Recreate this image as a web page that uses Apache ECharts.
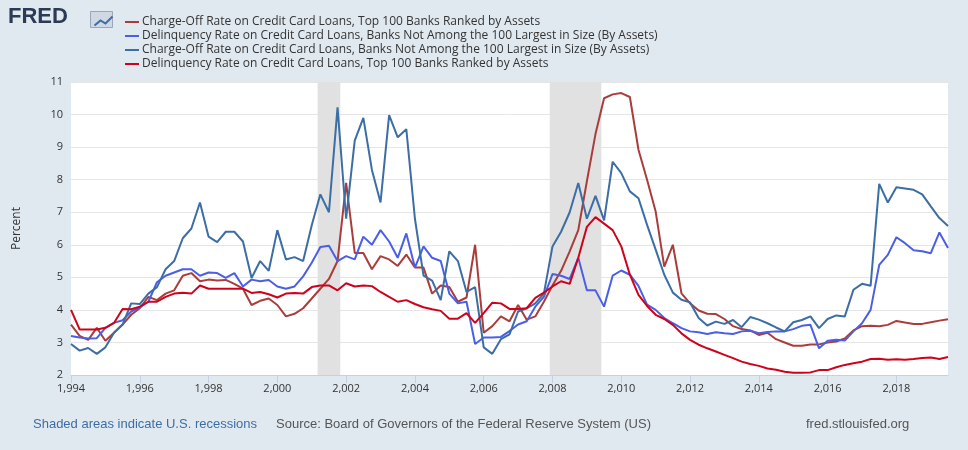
<!DOCTYPE html>
<html><head><meta charset="utf-8">
<script src="https://cdn.jsdelivr.net/npm/echarts@6/dist/echarts.min.js"></script>
<style>html,body{margin:0;padding:0;background:#e1e9f0;}#chart{width:968px;height:450px;}</style>
</head><body><div id="chart"></div>
<script>
// quarterly, 1994Q1 .. 2019Q3
var startYear = 1994;
var chargeOffTop100 = [3.55,3.2,3.08,3.45,3.05,3.3,3.55,3.85,4.05,4.4,4.3,4.5,4.6,5.05,5.13,4.88,4.93,4.9,4.92,4.8,4.65,4.15,4.28,4.35,4.15,3.8,3.88,4.05,4.35,4.65,4.95,
  5.5,7.9,5.75,5.75,5.25,5.65,5.55,5.35,5.7,5.3,5.3,4.5,4.75,4.7,4.25,4.38,6.0,3.3,3.5,3.8,3.65,4.15,3.7,3.8,4.25,4.75,5.2,5.8,6.45,7.95,9.4,10.5,10.62,
  10.66,10.54,8.92,8.0,7.02,5.33,6.0,4.51,4.2,3.98,3.88,3.87,3.72,3.5,3.41,3.37,3.23,3.3,3.1,3.0,2.9,2.9,2.94,2.94,3.0,3.03,3.12,3.37,3.5,3.51,3.5,3.54,3.66,3.61,3.57,3.57,3.62,3.67,3.71];
var delinqOther = [3.2,3.15,3.12,3.13,3.45,3.6,3.68,3.95,4.08,4.25,4.85,5.05,5.15,5.25,5.25,5.05,5.15,5.13,4.98,5.13,4.72,4.93,4.88,4.92,4.72,4.65,4.72,5.03,5.45,5.93,5.97,
  5.5,5.65,5.55,6.25,6.0,6.45,6.1,5.6,6.35,5.3,5.95,5.6,5.5,4.5,4.2,4.25,2.95,3.15,3.15,3.17,3.35,3.55,3.65,4.1,4.4,5.1,5.05,4.95,5.6,4.6,4.6,4.1,5.05,
  5.21,5.08,4.74,4.16,4.0,3.75,3.59,3.44,3.34,3.31,3.26,3.31,3.28,3.26,3.34,3.36,3.28,3.32,3.34,3.34,3.41,3.51,3.54,2.82,3.05,3.08,3.06,3.34,3.59,4.0,5.38,5.69,6.23,6.05,5.83,5.8,5.74,6.38,5.9];
var chargeOffOther = [2.95,2.75,2.83,2.65,2.85,3.3,3.55,4.2,4.18,4.5,4.7,5.25,5.5,6.2,6.5,7.3,6.25,6.08,6.4,6.4,6.1,4.98,5.5,5.2,6.45,5.55,5.62,5.5,6.6,7.55,7.0,
  10.22,6.8,9.2,9.9,8.3,7.3,9.98,9.3,9.55,6.8,5.05,4.9,4.3,5.8,5.5,4.55,4.7,2.85,2.65,3.1,3.25,3.95,4.05,4.2,4.5,5.95,6.4,7.0,7.9,6.8,7.5,6.75,8.55,
  8.2,7.64,7.43,6.61,5.85,5.08,4.53,4.31,4.23,3.75,3.52,3.64,3.57,3.69,3.47,3.78,3.7,3.59,3.46,3.34,3.62,3.69,3.8,3.44,3.72,3.83,3.8,4.62,4.8,4.74,7.87,7.3,7.77,7.73,7.69,7.55,7.18,6.82,6.58];
var delinqTop100 = [4.0,3.4,3.4,3.4,3.45,3.6,4.03,4.02,4.1,4.25,4.25,4.4,4.5,4.53,4.5,4.75,4.65,4.65,4.65,4.65,4.65,4.52,4.55,4.48,4.38,4.5,4.52,4.5,4.7,4.75,4.75,
  4.6,4.82,4.72,4.75,4.73,4.55,4.4,4.25,4.3,4.18,4.08,4.02,3.97,3.73,3.73,3.9,3.6,3.9,4.22,4.2,4.03,4.03,4.05,4.37,4.53,4.72,4.88,4.8,5.6,6.55,6.85,6.65,6.45,
  5.95,5.08,4.46,4.12,3.85,3.72,3.54,3.28,3.08,2.93,2.82,2.72,2.62,2.52,2.41,2.34,2.28,2.2,2.16,2.1,2.07,2.07,2.08,2.15,2.15,2.24,2.31,2.36,2.41,2.49,2.5,2.47,2.48,2.47,2.49,2.52,2.54,2.49,2.55];
var seriesNames = [
  'Charge-Off Rate on Credit Card Loans, Top 100 Banks Ranked by Assets',
  'Delinquency Rate on Credit Card Loans, Banks Not Among the 100 Largest in Size (By Assets)',
  'Charge-Off Rate on Credit Card Loans, Banks Not Among the 100 Largest in Size (By Assets)',
  'Delinquency Rate on Credit Card Loans, Top 100 Banks Ranked by Assets'
];
var seriesColors = ['#aa3d3b','#4b5fe6','#3c6ea5','#d0021b'];
var recessions = [[2001.17,2001.83],[2007.92,2009.42]];

function toPoints(arr){
  var out = [];
  for (var i = 0; i < arr.length; i++){
    out.push([startYear + i / 4, arr[i]]);
  }
  return out;
}

var allData = [chargeOffTop100, delinqOther, chargeOffOther, delinqTop100];
var series = [];
for (var k = 0; k < allData.length; k++){
  var s = {
    name: seriesNames[k],
    type: 'line',
    data: toPoints(allData[k]),
    symbol: 'none',
    lineStyle: {width: 2, color: seriesColors[k]},
    itemStyle: {color: seriesColors[k]},
    z: 3 + k
  };
  if (k == 0){
    s.markArea = {
      silent: true,
      itemStyle: {color: '#e1e1e1'},
      data: recessions.map(function(r){ return [{xAxis: r[0]}, {xAxis: r[1]}]; })
    };
  }
  series.push(s);
}

var chart = echarts.init(document.getElementById('chart'));
chart.setOption({
  backgroundColor: '#e1e9f0',
  animation: false,
  textStyle: {fontFamily: 'Open Sans, Arial, sans-serif'},
  grid: {left: 71, right: 20, top: 82, bottom: 75},
  legend: {
    orient: 'vertical', left: 120, top: 11, itemGap: 2, itemWidth: 14, itemHeight: 2,
    icon: 'rect', selectedMode: false,
    textStyle: {fontSize: 12, color: '#333', padding: [0,0,0,-2]},
    data: seriesNames
  },
  xAxis: {
    type: 'value', min: 1994, max: 2019.5, interval: 2,
    axisLine: {lineStyle: {color: '#c6d0e0'}},
    axisTick: {show: true, length: 8, lineStyle: {color: '#c6d0e0'}},
    axisLabel: {color: '#333', fontSize: 11, showMaxLabel: false},
    splitLine: {show: false}
  },
  yAxis: {
    type: 'value', min: 2, max: 11, interval: 1,
    name: 'Percent', nameLocation: 'middle', nameGap: 48, nameRotate: 90,
    nameTextStyle: {color: '#333', fontSize: 12},
    axisLine: {show: false}, axisTick: {show: false},
    axisLabel: {color: '#333', fontSize: 11},
    splitLine: {lineStyle: {color: '#e6e6e6'}}
  },
  graphic: [
    {type: 'rect', left: 71, top: 82, shape: {width: 877, height: 293}, style: {fill: '#fff'}, z: -10, silent: true},
    {type: 'text', left: 8, top: 6, style: {text: 'FRED', font: 'bold 22px Arial', fill: '#2b3a55'}},
    {type: 'rect', left: 90, top: 11, shape: {width: 22, height: 16}, style: {fill: '#cfd8e3', stroke: '#9aa7b8'}},
    {type: 'polyline', left: 92, top: 14, shape: {points: [[0,10],[6,5],[11,8],[18,1]]}, style: {stroke: '#3c6ea5', lineWidth: 2, fill: null}},
    {type: 'text', left: 33, top: 418, style: {text: 'Shaded areas indicate U.S. recessions', font: '13px Arial', fill: '#3c6ea5'}},
    {type: 'text', left: 276, top: 418, style: {text: 'Source: Board of Governors of the Federal Reserve System (US)', font: '13px Arial', fill: '#555'}},
    {type: 'text', left: 806, top: 418, style: {text: 'fred.stlouisfed.org', font: '13px Arial', fill: '#555'}}
  ],
  series: series
});
</script></body></html>
